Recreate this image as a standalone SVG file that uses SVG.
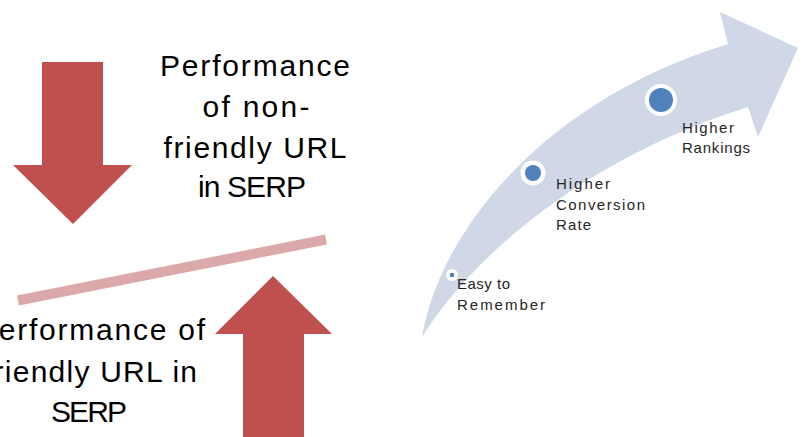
<svg xmlns="http://www.w3.org/2000/svg" width="807" height="437" viewBox="0 0 807 437">
<style>
.red{fill:#C0504D}
.big{font-family:"Liberation Sans",Arial,sans-serif;font-size:30px;fill:#000;text-anchor:middle}
.lbl{font-family:"Liberation Sans",Arial,sans-serif;font-size:15px;fill:#262626}
.ring{fill:#fff}
.dot{fill:#4F81BD}
</style>
<rect width="807" height="437" fill="#fff"/>
<g id="down-arrow">
<polygon class="red" points="42,62 103,62 103,165 132,165 73,224 13,165 42,165"/>
</g>
<g id="up-arrow">
<polygon class="red" points="273,276 332,334 304,334 304,437 243,437 243,334 215,334"/>
</g>
<g id="balance-bar">
<line x1="18" y1="300.5" x2="326" y2="239.5" stroke="#DBA9A9" stroke-width="10"/>
</g>
<g id="text-nonfriendly">
<text class="big" x="255" y="76" textLength="190" lengthAdjust="spacing">Performance</text>
<text class="big" x="256" y="117" textLength="107" lengthAdjust="spacing">of non-</text>
<text class="big" x="255" y="158" textLength="183" lengthAdjust="spacing">friendly URL</text>
<text class="big" x="252" y="197" textLength="108" lengthAdjust="spacing">in SERP</text>
</g>
<g id="text-friendly">
<text class="big" x="91" y="340" textLength="228" lengthAdjust="spacing">Performance of</text>
<text class="big" x="90.5" y="382" textLength="213" lengthAdjust="spacing">friendly URL in</text>
<text class="big" x="89" y="422" textLength="76" lengthAdjust="spacing">SERP</text>
</g>
<g id="growth-arrow">
<path fill="#D0D8E8" d="M422,337 C440,230 545,100 728,44 L720,12 L798,48 L758,137 L748,107 C580,160 470,260 422,337 Z"/>
</g>
<g id="step-easy">
<circle class="ring" cx="452" cy="275" r="6"/>
<circle class="dot" cx="452" cy="275" r="2.3"/>
<text class="lbl" x="457" y="289" textLength="53" lengthAdjust="spacing">Easy to</text>
<text class="lbl" x="457" y="310" textLength="88" lengthAdjust="spacing">Remember</text>
</g>
<g id="step-conversion">
<circle class="ring" cx="533" cy="173" r="12.5"/>
<circle class="dot" cx="533" cy="173" r="8"/>
<text class="lbl" x="556" y="189" textLength="54" lengthAdjust="spacing">Higher</text>
<text class="lbl" x="556" y="210" textLength="89" lengthAdjust="spacing">Conversion</text>
<text class="lbl" x="556" y="230" textLength="35" lengthAdjust="spacing">Rate</text>
</g>
<g id="step-rankings">
<circle class="ring" cx="661" cy="100" r="16"/>
<circle class="dot" cx="661" cy="100" r="12"/>
<text class="lbl" x="682" y="133" textLength="52" lengthAdjust="spacing">Higher</text>
<text class="lbl" x="682" y="153" textLength="68" lengthAdjust="spacing">Rankings</text>
</g>
</svg>
